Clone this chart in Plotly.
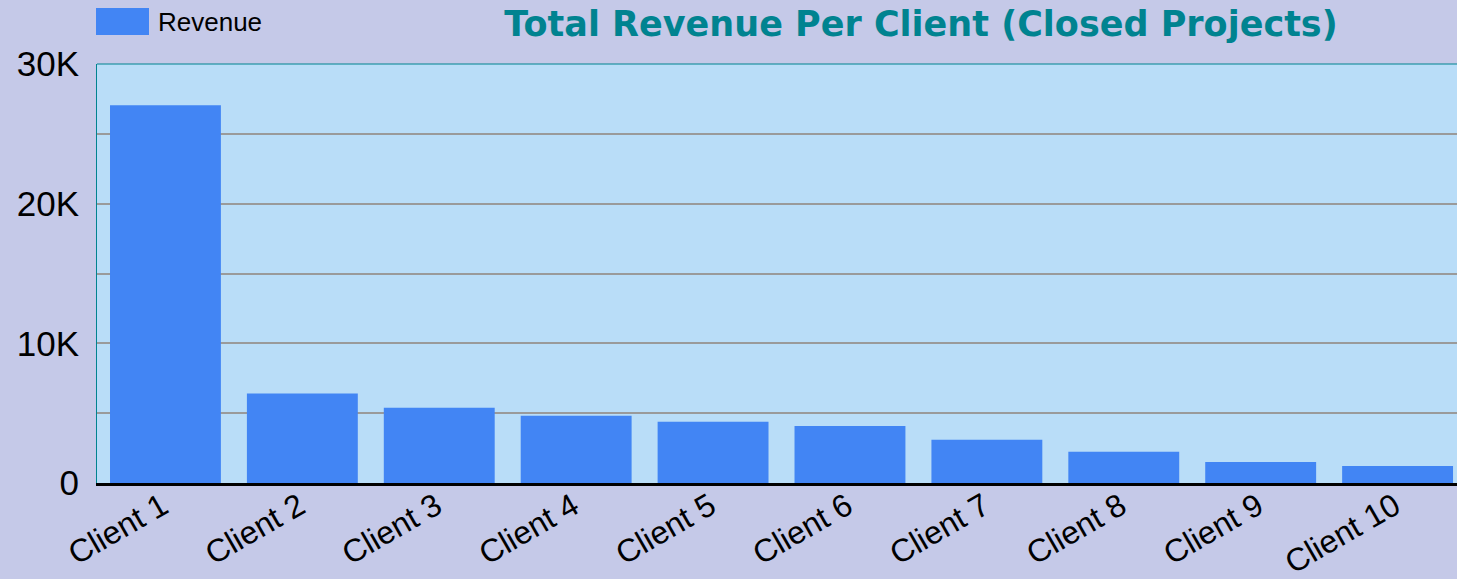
import plotly.graph_objects as go

categories = ["Client 1", "Client 2", "Client 3", "Client 4", "Client 5",
              "Client 6", "Client 7", "Client 8", "Client 9", "Client 10"]
revenue = [27050, 6400, 5380, 4810, 4380, 4090, 3090, 2230, 1510, 1220]
series_name = "Revenue"
y_tick_vals = [0, 10000, 20000, 30000]
y_tick_text = ["0", "10K", "20K", "30K"]
title_text = "Total Revenue Per Client (Closed Projects)"

BAR = "#4285F4"
TEAL = "#008390"
PAPER = "#C5C9E8"

fig = go.Figure()
fig.add_trace(go.Bar(x=categories, y=revenue, name=series_name,
                     marker=dict(color=BAR, line=dict(width=0)),
                     showlegend=False))

fig.update_layout(
    width=1457, height=579,
    margin=dict(l=97, r=0, t=64, b=96, pad=0, autoexpand=False),
    paper_bgcolor=PAPER,
    plot_bgcolor="#B9DDF8",
    bargap=0.19,
    title=dict(text=title_text, x=921/1457, xanchor="center",
               y=1 - 24/579, yanchor="middle", yref="container",
               font=dict(family="DejaVu Sans", size=35, color=TEAL, weight="bold")),
    font=dict(family="Liberation Sans, Arial", color="black"),
)
fig.update_xaxes(range=[-0.5, 9.434], showgrid=False, ticks="", automargin=False,
                 tickangle=-30, tickfont=dict(size=32),
                 ticklabelstandoff=-11, ticklabelshift=-3,
                 showline=True, linecolor="black", linewidth=3)
fig.update_yaxes(range=[0, 30000], tickvals=y_tick_vals, ticktext=y_tick_text,
                 tickfont=dict(size=35), ticks="", ticklabelstandoff=10, automargin=False,
                 showgrid=True, gridcolor="#9A9A9A", gridwidth=2,
                 minor=dict(dtick=5000, showgrid=True, gridcolor="#9A9A9A", gridwidth=2),
                 zeroline=False,
                 showline=True, linecolor=TEAL, linewidth=1)

# top border of the plot area
fig.add_shape(type="line", xref="paper", yref="paper", x0=0, x1=1, y0=1, y1=1,
              line=dict(color=TEAL, width=1))
# legend swatch and label
fig.add_shape(type="rect", xref="paper", yref="paper",
              x0=-1/1360, x1=52/1360, y0=1 + (64-35)/419, y1=1 + (64-8)/419,
              fillcolor=BAR, line=dict(width=0))
fig.add_annotation(text=series_name, xref="paper", yref="paper",
                   x=59/1360, y=1 + (64-22)/419, xanchor="left", yanchor="middle",
                   showarrow=False, font=dict(size=26, color="black"))

fig.write_html("out.html",
               config={"displayModeBar": False},
               post_script="document.body.style.margin='0';"
                           "document.body.style.overflow='hidden';"
                           "document.body.style.background='" + PAPER + "';")
